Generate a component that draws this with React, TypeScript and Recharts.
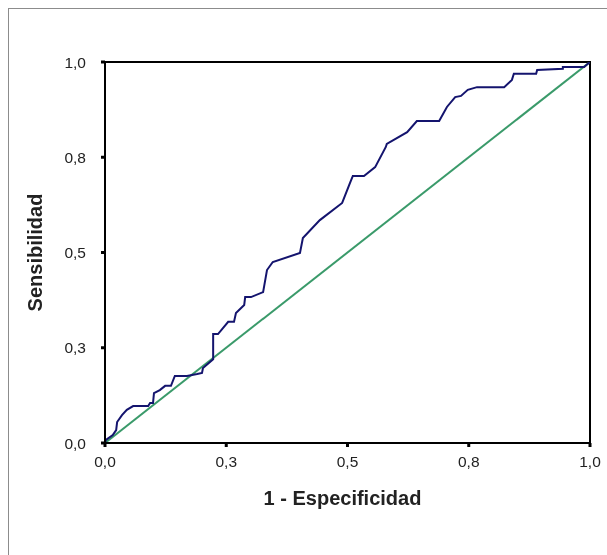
import { Line, LineChart, ReferenceArea, XAxis, YAxis } from "recharts";

// 1 - especificidad (eje X) y sensibilidad (eje Y) de la curva ROC
const fprValues = [
  0, 0.002, 0.016, 0.023, 0.025, 0.035, 0.045, 0.058, 0.089, 0.093, 0.099, 0.101, 0.113, 0.124, 0.136,
  0.144, 0.169, 0.19, 0.2, 0.202, 0.223, 0.223, 0.233, 0.254, 0.266, 0.27, 0.287, 0.289, 0.301, 0.326,
  0.334, 0.346, 0.402, 0.408, 0.443, 0.489, 0.505, 0.511, 0.534, 0.557, 0.579, 0.581, 0.623, 0.643,
  0.689, 0.705, 0.722, 0.734, 0.748, 0.767, 0.823, 0.839, 0.843, 0.889, 0.891, 0.944, 0.944, 0.988, 1,
];
const tprValues = [
  0, 0.008, 0.021, 0.034, 0.055, 0.073, 0.087, 0.097, 0.097, 0.105, 0.105, 0.131, 0.139, 0.15, 0.15,
  0.176, 0.176, 0.181, 0.184, 0.197, 0.22, 0.286, 0.286, 0.318, 0.318, 0.341, 0.362, 0.383, 0.383, 0.396,
  0.454, 0.475, 0.499, 0.538, 0.585, 0.63, 0.682, 0.701, 0.701, 0.724, 0.777, 0.785, 0.816, 0.845,
  0.845, 0.882, 0.908, 0.911, 0.927, 0.934, 0.934, 0.953, 0.969, 0.969, 0.979, 0.982, 0.987, 0.987, 1,
];

// línea de referencia (diagonal)
const diagFpr = [0, 1];
const diagTpr = [0, 1];

const tickValues = [0, 0.25, 0.5, 0.75, 1];
const tickLabels = ["0,0", "0,3", "0,5", "0,8", "1,0"];

const rocData = fprValues.map((fpr, i) => ({ fpr, tpr: tprValues[i] }));
const diagData = diagFpr.map((fpr, i) => ({ fpr, tpr: diagTpr[i] }));

const font = "'Liberation Sans', Arial, sans-serif";
const tickFormatter = (value: number) => tickLabels[tickValues.indexOf(value)] ?? String(value);

export default function App() {
  return (
    <div
      style={{
        position: "fixed",
        top: 8,
        left: 8,
        width: 598,
        height: 546,
        borderTop: "1px solid #8c8c8c",
        borderLeft: "1px solid #8c8c8c",
        fontFamily: font,
      }}
    >
      <LineChart width={598} height={546} margin={{ top: 53, right: 17, left: 0, bottom: 42 }}>
        <XAxis
          type="number"
          dataKey="fpr"
          domain={[0, 1]}
          ticks={tickValues}
          tickFormatter={tickFormatter}
          allowDataOverflow
          height={70}
          tickSize={4}
          tickMargin={9}
          axisLine={{ stroke: "#000", strokeWidth: 2 }}
          tickLine={{ stroke: "#000", strokeWidth: 3 }}
          tick={{ fill: "#222", fontSize: 15.5, fontFamily: font }}
          label={{
            value: "1 - Especificidad",
            position: "center",
            dx: -5,
            dy: 20,
            style: { fill: "#222", fontSize: 20, fontWeight: 700, fontFamily: font },
          }}
        />
        <YAxis
          type="number"
          dataKey="tpr"
          domain={[0, 1]}
          ticks={tickValues}
          tickFormatter={tickFormatter}
          allowDataOverflow
          width={96}
          tickSize={4}
          tickMargin={15}
          axisLine={{ stroke: "#000", strokeWidth: 2 }}
          tickLine={{ stroke: "#000", strokeWidth: 3 }}
          tick={{ fill: "#222", fontSize: 15.5, fontFamily: font }}
          label={{
            value: "Sensibilidad",
            position: "center",
            angle: -90,
            dx: -22,
            style: { fill: "#222", fontSize: 20, fontWeight: 700, fontFamily: font },
          }}
        />
        <ReferenceArea x1={0} x2={1} y1={0} y2={1} fill="none" stroke="#000" strokeWidth={2} ifOverflow="visible" />
        <Line
          data={diagData}
          dataKey="tpr"
          type="linear"
          stroke="#3a9a6a"
          strokeWidth={2}
          dot={false}
          isAnimationActive={false}
        />
        <Line
          data={rocData}
          dataKey="tpr"
          type="linear"
          stroke="#14146e"
          strokeWidth={2}
          dot={false}
          isAnimationActive={false}
        />
      </LineChart>
    </div>
  );
}
